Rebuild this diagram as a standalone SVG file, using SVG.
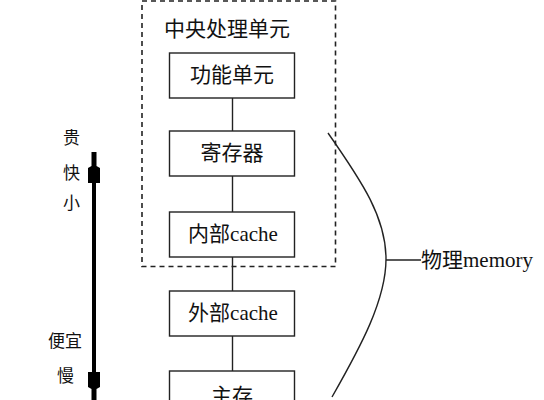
<svg xmlns="http://www.w3.org/2000/svg" width="544" height="400" viewBox="0 0 544 400">
<style>
.box{fill:#fff;stroke:#222;stroke-width:1.4}
.t{font-family:"Liberation Serif","Noto Sans CJK SC",serif;font-size:21px;fill:#111;text-anchor:middle}
.s{font-family:"Noto Sans CJK SC",sans-serif;font-size:17px;fill:#111;text-anchor:middle}
.ln{stroke:#222;stroke-width:1.4;fill:none}
</style>
<rect width="544" height="400" fill="#fff"/>
<g id="cpu">
<rect x="142" y="1" width="193.5" height="265.5" fill="none" stroke="#222" stroke-width="1.6" stroke-dasharray="5,4"/>
<text class="t" x="164" y="35.5" style="text-anchor:start">中央处理单元</text>
</g>
<g id="connectors">
<line class="ln" x1="232.5" y1="98" x2="232.5" y2="131"/>
<line class="ln" x1="232.5" y1="176" x2="232.5" y2="212"/>
<line class="ln" x1="232.5" y1="257" x2="232.5" y2="291"/>
<line class="ln" x1="232.5" y1="336" x2="232.5" y2="371"/>
<path class="ln" d="M328,133 C363,183 386,218 386,259 C386,300 360.5,347 332,397"/>
<line class="ln" x1="386" y1="260" x2="421" y2="260"/>
</g>
<g id="n1"><rect class="box" x="169.5" y="53" width="125" height="45"/><text class="t" x="232" y="81.5">功能单元</text></g>
<g id="n2"><rect class="box" x="169.5" y="131" width="125" height="45"/><text class="t" x="232" y="160">寄存器</text></g>
<g id="n3"><rect class="box" x="169.5" y="212" width="125" height="45"/><text class="t" x="233" y="241">内部cache</text></g>
<g id="n4"><rect class="box" x="169.5" y="291" width="125" height="45"/><text class="t" x="233" y="319.5">外部cache</text></g>
<g id="n5"><rect class="box" x="169.5" y="371" width="125" height="45"/><text class="t" x="232" y="403">主存</text></g>
<g id="memory"><text class="t" x="421" y="267" style="text-anchor:start">物理memory</text></g>
<g id="scale">
<rect x="92" y="170" width="4" height="210" fill="#000"/>
<polygon points="91.5,152 96.5,152 96.5,166 100,168 100,183 88,183 88,168 91.5,166" fill="#000"/>
<polygon points="88,372 100,372 100,387 96.5,389 96.5,402 91.5,402 91.5,389 88,387" fill="#000"/>
<text class="s" x="71.5" y="143.5">贵</text>
<text class="s" x="71.5" y="178.5">快</text>
<text class="s" x="71.5" y="208.5">小</text>
<text class="s" x="65" y="346.5">便宜</text>
<text class="s" x="65.5" y="381.5">慢</text>
</g>
</svg>
